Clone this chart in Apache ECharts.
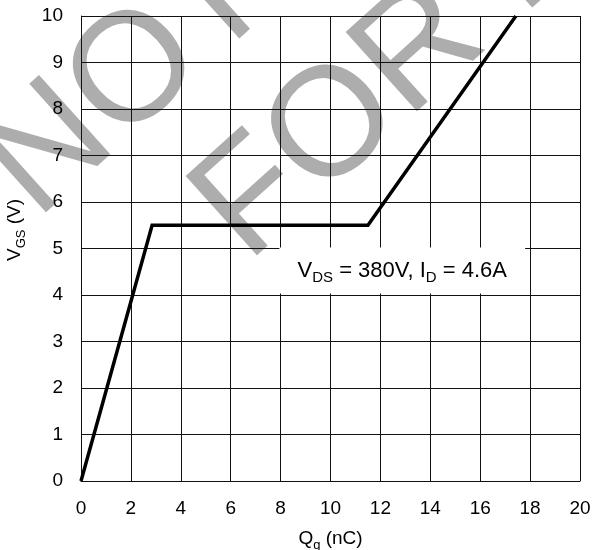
<!DOCTYPE html>
<html>
<head>
<meta charset="utf-8">
<script src="https://cdn.jsdelivr.net/npm/echarts@6/dist/echarts.min.js"></script>
<style>
  html, body { margin: 0; padding: 0; background: #fff; }
  #chart { width: 593px; height: 550px; }
</style>
</head>
<body>
<div id="chart"></div>
<script>
// Gate charge curve: V_GS versus Q_g
const qgPoints = [0, 2.85, 11.5, 17.43];      // nC
const vgsPoints = [0, 5.5, 5.5, 10];          // V
const xTicks = [0, 2, 4, 6, 8, 10, 12, 14, 16, 18, 20];
const yTicks = [0, 1, 2, 3, 4, 5, 6, 7, 8, 9, 10];
// Test-condition label box, in axis units
const noteBoxQ = [7.95, 17.8];
const noteBoxV = [4.03, 5.02];

const FONT = '"Liberation Sans", Arial, Helvetica, sans-serif';

const chart = echarts.init(document.getElementById('chart'), null, { renderer: 'canvas' });

const curve = qgPoints.map((q, i) => [q, vgsPoints[i]]);

const gridLine = { show: true, lineStyle: { color: '#111', width: 1 } };

chart.setOption({
  animation: false,
  backgroundColor: '#fff',
  grid: { left: 81, right: 13, top: 16, bottom: 69, containLabel: false, outerBoundsMode: 'none' },
  xAxis: {
    type: 'value',
    min: xTicks[0],
    max: xTicks[xTicks.length - 1],
    interval: xTicks[1] - xTicks[0],
    axisLine: { show: true, lineStyle: { color: '#111', width: 1 } },
    axisTick: { show: false },
    splitLine: gridLine,
    axisLabel: { color: '#000', fontFamily: FONT, fontSize: 19, margin: 18 },
    name: '{m|Q}{s|g}{m| (nC)}',
    nameLocation: 'middle',
    nameGap: 45,
    nameTextStyle: {
      rich: {
        m: { fontFamily: FONT, fontSize: 19, color: '#000', lineHeight: 26, verticalAlign: 'middle' },
        s: { fontFamily: FONT, fontSize: 13, color: '#000', lineHeight: 13, verticalAlign: 'bottom' }
      }
    }
  },
  yAxis: {
    type: 'value',
    min: yTicks[0],
    max: yTicks[yTicks.length - 1],
    interval: yTicks[1] - yTicks[0],
    axisLine: { show: true, lineStyle: { color: '#111', width: 1 } },
    axisTick: { show: false },
    splitLine: gridLine,
    axisLabel: { color: '#000', fontFamily: FONT, fontSize: 19, margin: 18 }
  },
  graphic: [
    // faint diagonal stamp behind the grid
    {
      type: 'group', z: -10, silent: true,
      children: [
        {
          type: 'text', x: 8, y: 189, rotation: 0.733,
          style: { text: 'NOT RECOMMENDED', font: '155px ' + FONT, fill: '#adadad', align: 'left', verticalAlign: 'middle' }
        },
        {
          type: 'text', x: 219, y: 232, rotation: 0.733,
          style: { text: 'FOR NEW DESIGN', font: '155px ' + FONT, fill: '#adadad', align: 'left', verticalAlign: 'middle' }
        }
      ]
    },
    // y-axis title
    {
      type: 'text', x: 15, y: 230, rotation: Math.PI / 2, silent: true,
      style: {
        text: '{m|V}{s|GS}{m| (V)}',
        align: 'center', verticalAlign: 'middle',
        rich: {
          m: { fontFamily: FONT, fontSize: 19, fill: '#000', lineHeight: 26, verticalAlign: 'middle' },
          s: { fontFamily: FONT, fontSize: 13, fill: '#000', lineHeight: 13, verticalAlign: 'bottom' }
        }
      }
    }
  ],
  series: [
    {
      type: 'line',
      data: curve,
      symbol: 'none',
      lineStyle: { color: '#000', width: 3.5, join: 'miter' },
      z: 3,
      markArea: {
        silent: true,
        itemStyle: { color: '#fff', borderWidth: 0, opacity: 1 },
        label: {
          show: true,
          position: 'inside',
          formatter: '{m|V}{s|DS}{m| = 380V, I}{s|D}{m| = 4.6A}',
          rich: {
            m: { fontFamily: FONT, fontSize: 22, color: '#000', lineHeight: 30, verticalAlign: 'middle' },
            s: { fontFamily: FONT, fontSize: 15, color: '#000', lineHeight: 15, verticalAlign: 'bottom' }
          }
        },
        data: [[
          { coord: [noteBoxQ[0], noteBoxV[1]] },
          { coord: [noteBoxQ[1], noteBoxV[0]] }
        ]]
      }
    }
  ]
});
</script>
</body>
</html>
